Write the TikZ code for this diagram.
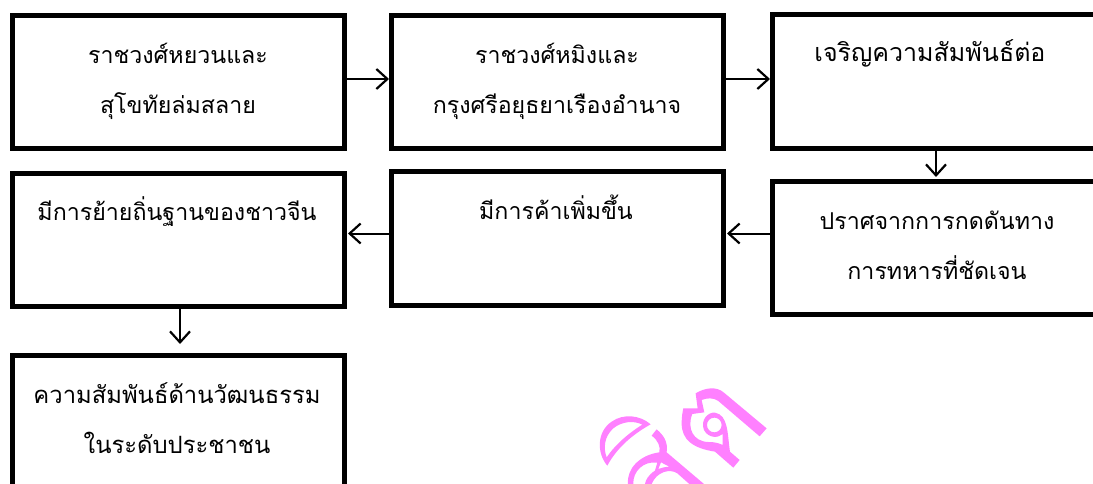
\documentclass[tikz,border=0pt]{standalone}
\usepackage{fontspec}
\newfontfamily\thaifont[Script=Thai]{Loma}
\usetikzlibrary{arrows.meta}
\definecolor{wm}{HTML}{FF80FF}
\tikzset{
  boxn/.style={draw=black,line width=5pt,fill=white,inner sep=0pt,anchor=north west},
  txt/.style={font=\thaifont\fontsize{23.2}{50}\selectfont,align=center,inner sep=0pt,anchor=base,text=black},
  conn/.style={draw=black,line width=2pt,-{Straight Barb[length=11pt,width=20pt,line width=2.2pt]}},
  wmshape/.style={fill=wm,draw=none,even odd rule}
}
\begin{document}
\begin{tikzpicture}[x=1pt,y=-1pt]
\useasboundingbox (0,0) rectangle (1093,484);
\clip (0,0) rectangle (1093,484);
\fill[white] (0,0) rectangle (1093,484);
% watermark
\begin{scope}[shift={(400,340)},x=0.3333pt,y=-0.3333pt]
\path[wmshape] (752,253) .. controls (720,225) and (670,220) .. (635,245) .. controls (590,275) and (590,340) .. (622,377) .. controls (650,325) and (695,285) .. (752,253) -- cycle
 (727,254) .. controls (700,240) and (665,245) .. (640,265) .. controls (612,290) and (610,325) .. (620,352) .. controls (645,315) and (685,280) .. (727,254) -- cycle;
\path[wmshape] (887,160) .. controls (915,143) and (950,138) .. (972,158) -- (1100,265) -- (1079,289) -- (955,183) .. controls (940,172) and (920,174) .. (905,180) -- (913,217) -- (877,222) .. controls (860,265) and (880,305) .. (925,306) .. controls (945,306) and (958,310) .. (968,315) -- (968,282) .. controls (955,295) and (925,295) .. (912,270) .. controls (900,240) and (925,215) .. (945,218) .. controls (985,225) and (982,280) .. (990,335) -- (1019,360) -- (1000,383) -- (945,335) .. controls (880,325) and (845,300) .. (845,250) .. controls (845,230) and (848,215) .. (850,205) -- (893,205) -- cycle
 (965,255) arc[start angle=0,end angle=360,radius=22];
\path[wmshape] (770,268) -- (755,287) .. controls (775,302) and (782,320) .. (778,337) .. controls (720,345) and (680,385) .. (684,432) -- (700,432) .. controls (698,395) and (730,362) .. (772,368) -- (765,392) .. controls (745,405) and (737,420) .. (735,432) -- (755,432) .. controls (770,395) and (810,385) .. (832,400) -- (868,432) -- (912,432) -- (800,337) .. controls (805,305) and (790,285) .. (770,268) -- cycle
 (783,367) -- (808,380) .. controls (795,381) and (785,383) .. (775,387) -- cycle;
\end{scope}
% boxes
\node[boxn,minimum width=332pt,minimum height=133pt] (a) at (10,13) {};
\node[boxn,minimum width=332pt,minimum height=133pt] (b) at (389,13) {};
\node[boxn,minimum width=330pt,minimum height=134pt] (c) at (770,12) {};
\node[boxn,minimum width=330pt,minimum height=133pt] (d) at (770,179) {};
\node[boxn,minimum width=332pt,minimum height=134pt] (e) at (389,169) {};
\node[boxn,minimum width=332pt,minimum height=133pt] (f) at (10,171) {};
\node[boxn,minimum width=332pt,minimum height=140pt] (g) at (10,353) {};
% texts
\node[txt] (ta) at (178,114) {ราชวงศ์หยวนและ\\สุโขทัยล่มสลาย};
\node[txt] (tb) at (557,114) {ราชวงศ์หมิงและ\\กรุงศรีอยุธยาเรืองอำนาจ};
\node[txt,font=\thaifont\fontsize{25}{50}\selectfont] (tc) at (930,62) {เจริญความสัมพันธ์ต่อ};
\node[txt] (td) at (937,279) {ปราศจากการกดดันทาง\\การทหารที่ชัดเจน};
\node[txt] (te) at (556,219) {มีการค้าเพิ่มขึ้น};
\node[txt] (tf) at (177,221) {มีการย้ายถิ่นฐานของชาวจีน};
\node[txt,font=\thaifont\fontsize{23.8}{50}\selectfont] (tg) at (177,453) {ความสัมพันธ์ด้านวัฒนธรรม\\ในระดับประชาชน};
% connectors
\draw[conn] ([yshift=3pt]a.east) -- ([yshift=3pt]b.west);
\draw[conn] ([yshift=3pt]b.east) -- ([yshift=2.5pt]c.west);
\draw[conn] ([xshift=-1.5pt]c.south) -- ([xshift=-1.5pt,yshift=2pt]d.north);
\draw[conn] ([yshift=14.5pt]d.west) -- ([yshift=5pt,xshift=1pt]e.east);
\draw[conn] ([yshift=5pt]e.west) -- ([yshift=6.5pt,xshift=1pt]f.east);
\draw[conn] ([xshift=1.5pt]f.south) -- ([xshift=1.5pt,yshift=9pt]g.north);
\end{tikzpicture}
\end{document}
